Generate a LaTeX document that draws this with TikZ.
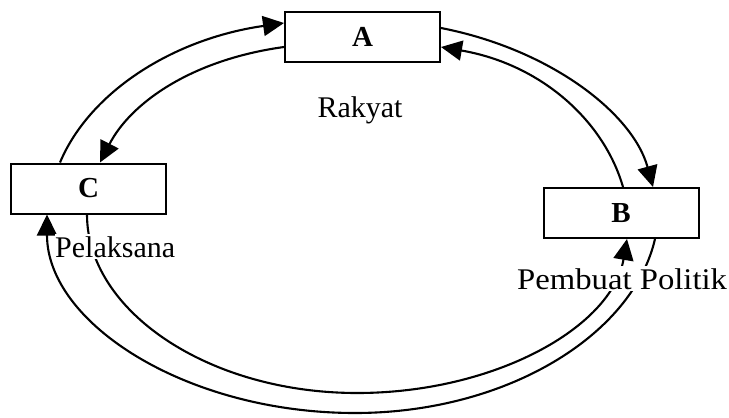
\documentclass[tikz,border=0pt]{standalone}
\usepackage{fontspec}
\setmainfont{Liberation Serif}
\usetikzlibrary{arrows.meta}

\begin{document}
\begin{tikzpicture}[x=1pt,y=-1pt,
  box/.style={draw, line width=2pt, minimum width=155pt, minimum height=50pt,
    inner sep=0pt, font=\fontsize{29}{33}\selectfont\bfseries},
  lbl/.style={font=\fontsize{30}{34}\selectfont, inner sep=2pt},
  link/.style={line width=2.1pt, -{Triangle[length=21pt,width=20pt]}}
]
\useasboundingbox (0,0) rectangle (729,418);

% the three actors
\node[box] (A) at (362.5,37) {A};
\node[box] (B) at (621,213) {B};
\node[box] (C) at (88.5,188.5) {C};

% upper left pair
\draw[link] ([xshift=-28.5pt]C.north) .. controls +(29.7,-70.7) and +(-110.8,15.8) .. ([yshift=14pt]A.west);
\draw[link] ([yshift=-10pt]A.west) .. controls +(-93.9,12.9) and +(30.2,-58.7) .. ([xshift=11.5pt]C.north);

% upper right pair
\draw[link] ([yshift=9pt]A.east) .. controls +(110.1,21.5) and +(-20.0,-73.2) .. ([xshift=32pt]B.north);
\draw[link] ([xshift=2pt]B.north) .. controls +(-19.0,-66.0) and +(100.5,17.3) .. ([yshift=-10pt]A.east);

% lower pair, each passing through its lowest point
\coordinate (outerlow) at (355,413);
\coordinate (innerlow) at (357,393);
\draw[link] ([xshift=34pt]B.south) .. controls +(-22.3,96.5) and +(151,0) .. (outerlow)
  .. controls +(-168.4,0) and +(0,108.8) .. ([xshift=-41.5pt]C.south);
\draw[link] ([xshift=-1.5pt]C.south) .. controls +(0,96.1) and +(-149.1,0) .. (innerlow)
  .. controls +(137.7,0) and +(-15.1,88.2) .. ([xshift=6pt]B.south);

% captions
\node[lbl, anchor=base] (rakyat) at (360,117) {Rakyat};
\node[lbl, anchor=base west, fill=white, inner xsep=0pt] (pelaksana) at (55,257) {Pelaksana};
\node[lbl, anchor=base west, fill=white, inner xsep=1pt] (pembuat) at (516,289) {\scalebox{1.09}[1]{Pembuat Politik}};
\end{tikzpicture}
\end{document}
